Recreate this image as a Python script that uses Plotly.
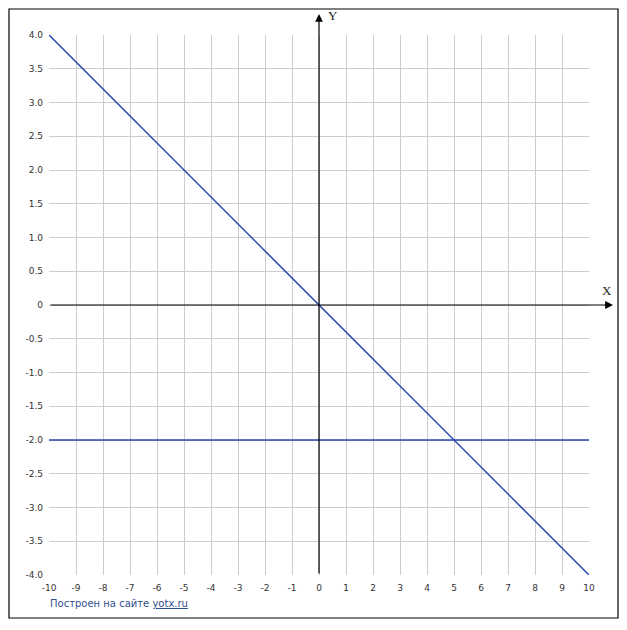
import plotly.graph_objects as go

# Data
x_line1 = [-10, 10]
y_line1 = [4, -4]          # y = -0.4x
x_line2 = [-10, 10]
y_line2 = [-2, -2]         # y = -2

x_ticks = list(range(-10, 11))
x_ticktext = [str(v) for v in x_ticks]
y_ticks = [4.0, 3.5, 3.0, 2.5, 2.0, 1.5, 1.0, 0.5, 0, -0.5, -1.0, -1.5, -2.0, -2.5, -3.0, -3.5, -4.0]
y_ticktext = ["4.0", "3.5", "3.0", "2.5", "2.0", "1.5", "1.0", "0.5", "0", "-0.5", "-1.0", "-1.5",
              "-2.0", "-2.5", "-3.0", "-3.5", "-4.0"]

LINE_COLOR = "#2a44b0"
TICK_FONT = dict(family="DejaVu Sans", size=9, color="#333333")

fig = go.Figure()
fig.add_trace(go.Scatter(x=x_line1, y=y_line1, mode="lines",
                         line=dict(color=LINE_COLOR, width=1.5), hoverinfo="skip"))
fig.add_trace(go.Scatter(x=x_line2, y=y_line2, mode="lines",
                         line=dict(color=LINE_COLOR, width=1.5), hoverinfo="skip"))

OFF = 8  # page body margin
# reference pixel geometry of plot area
PL, PR, PT, PB = 49, 589, 35, 575
PW, PH = PR - PL, PB - PT
W, H = 627 - OFF, 630 - OFF
L, T = PL - OFF, PT - OFF
R, B = W - (PR - OFF), H - (PB - OFF)


def px(xpx):
    return (xpx - PL) / PW


def py(ypx):
    return (PB - ypx) / PH


fig.update_layout(
    width=W, height=H,
    margin=dict(l=L, r=R, t=T, b=B, pad=0),
    paper_bgcolor="white", plot_bgcolor="white",
    showlegend=False,
    xaxis=dict(range=[-10, 10], tickvals=x_ticks, ticktext=x_ticktext,
               showgrid=True, gridcolor="#cccccc", gridwidth=1,
               zeroline=False, showline=False, ticks="", ticklabelstandoff=6,
               tickfont=TICK_FONT, fixedrange=True),
    yaxis=dict(range=[-4, 4], tickvals=y_ticks, ticktext=y_ticktext,
               showgrid=True, gridcolor="#cccccc", gridwidth=1,
               zeroline=False, showline=False, ticks="", ticklabelstandoff=5,
               tickfont=TICK_FONT, fixedrange=True),
)

# axis arrows (black)
x_tip = 10 + (613 - PR) / 27.0
y_tip = 4 + (PT - 14) / 67.5
fig.add_annotation(x=x_tip, y=0, ax=-10, ay=0, xref="x", yref="y", axref="x", ayref="y",
                   showarrow=True, arrowhead=2, arrowsize=1.3, arrowwidth=1.2,
                   arrowcolor="black", text="")
fig.add_annotation(x=0, y=y_tip, ax=0, ay=-4, xref="x", yref="y", axref="x", ayref="y",
                   showarrow=True, arrowhead=2, arrowsize=1.3, arrowwidth=1.2,
                   arrowcolor="black", text="")

# axis names
fig.add_annotation(x=px(607), y=py(290), xref="paper", yref="paper", text="X", showarrow=False,
                   xanchor="center", yanchor="middle",
                   font=dict(family="Liberation Serif", size=13, color="#222"))
fig.add_annotation(x=px(333), y=py(16), xref="paper", yref="paper", text="Y", showarrow=False,
                   xanchor="center", yanchor="middle",
                   font=dict(family="Liberation Serif", size=13, color="#222"))

# frame
fig.add_shape(type="rect", xref="paper", yref="paper",
              x0=px(9), x1=px(618), y0=py(618), y1=py(9),
              line=dict(color="black", width=1.2), fillcolor="rgba(0,0,0,0)", layer="above")

# credit text
fig.add_annotation(x=px(48), y=py(603), xref="paper", yref="paper",
                   xanchor="left", yanchor="middle", showarrow=False,
                   text="Построен на сайте <span style='text-decoration:underline'>yotx.ru</span>",
                   font=dict(family="DejaVu Sans", size=10, color="#30508f"))

fig.write_html("out.html")
